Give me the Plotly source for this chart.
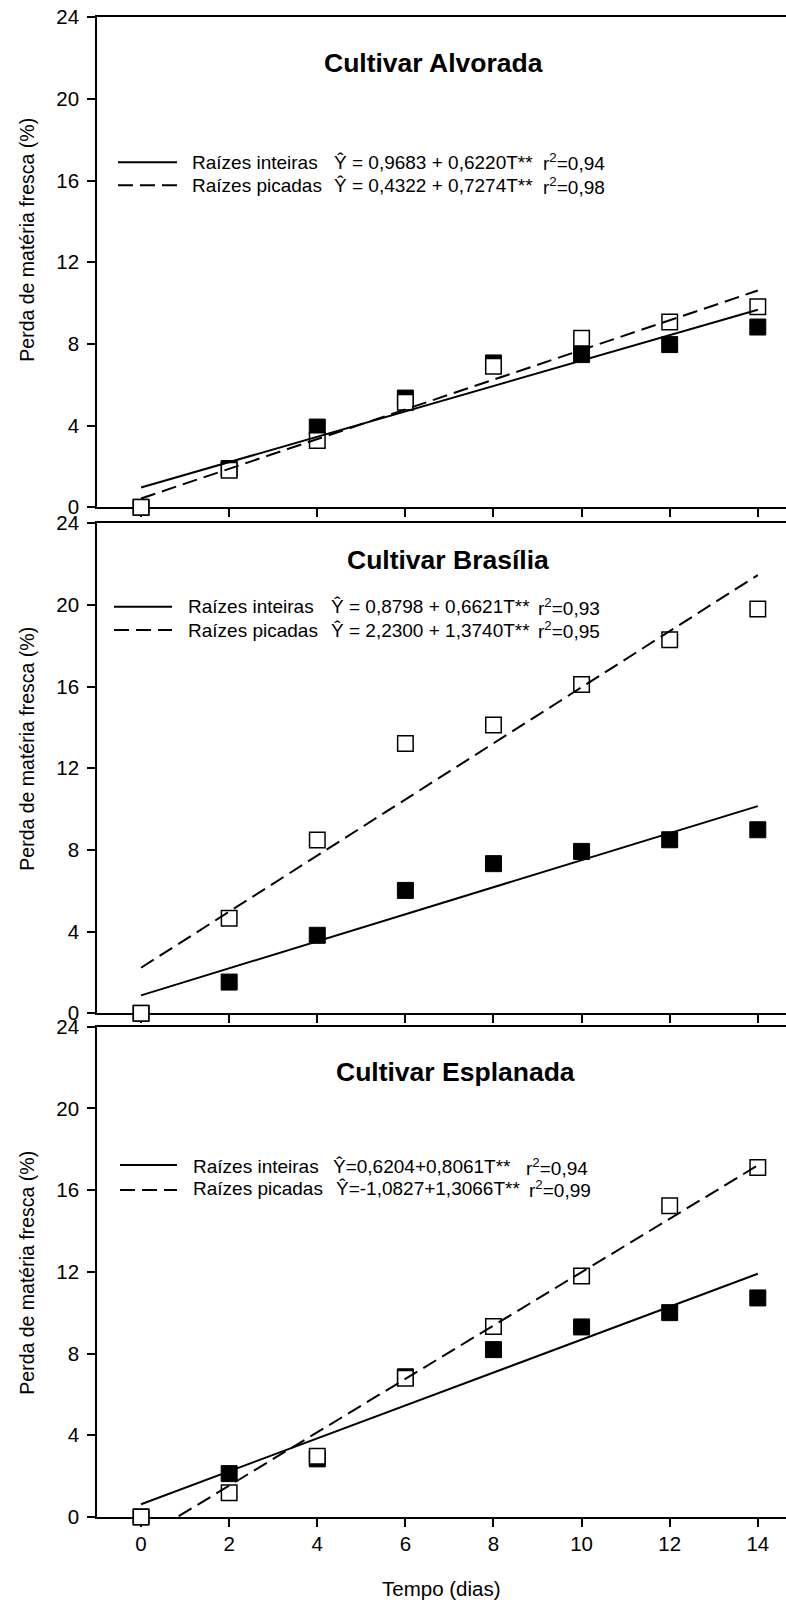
import numpy as np
import plotly.graph_objects as go

# ---------------- data ----------------
tempo = [0, 2, 4, 6, 8, 10, 12, 14]
cultivares = ["Cultivar Alvorada", "Cultivar Brasília", "Cultivar Esplanada"]
series_names = ["Raízes inteiras", "Raízes picadas"]

alvorada_inteiras = [0.0, 1.90, 3.93, 5.35, 7.07, 7.48, 7.97, 8.83]
alvorada_picadas = [0.0, 1.81, 3.27, 5.14, 6.91, 8.28, 9.08, 9.82]
brasilia_inteiras = [0.0, 1.53, 3.82, 6.02, 7.33, 7.93, 8.50, 8.99]
brasilia_picadas = [0.0, 4.65, 8.49, 13.22, 14.12, 16.11, 18.30, 19.80]
esplanada_inteiras = [0.0, 2.12, 2.84, 6.86, 8.19, 9.30, 10.00, 10.72]
esplanada_picadas = [0.0, 1.18, 2.97, 6.79, 9.32, 11.80, 15.23, 17.11]

# regression coefficients (intercept, slope)
coef_inteiras = [(0.9683, 0.6220), (0.8798, 0.6621), (0.6204, 0.8061)]
coef_picadas = [(0.4322, 0.7274), (2.2300, 1.3740), (-1.0827, 1.3066)]

eq_inteiras = ["Ŷ = 0,9683 + 0,6220T**", "Ŷ = 0,8798 + 0,6621T**", "Ŷ=0,6204+0,8061T**"]
eq_picadas = ["Ŷ = 0,4322 + 0,7274T**", "Ŷ = 2,2300 + 1,3740T**", "Ŷ=-1,0827+1,3066T**"]
r2_inteiras = ["0,94", "0,93", "0,94"]
r2_picadas = ["0,98", "0,95", "0,99"]

y_ticks = [0, 4, 8, 12, 16, 20, 24]
x_ticks = [0, 2, 4, 6, 8, 10, 12, 14]
y_title = "Perda de matéria fresca (%)"
x_title = "Tempo (dias)"

inteiras = [alvorada_inteiras, brasilia_inteiras, esplanada_inteiras]
picadas = [alvorada_picadas, brasilia_picadas, esplanada_picadas]

# ---------------- layout geometry (pixels) ----------------
W, H, L = 786, 1602, 97
panels_px = [(17.3, 507.3), (523.3, 1013.3), (1026.7, 1516.9)]
FONT = "Liberation Sans, Arial, sans-serif"


def fx(px):
    return (px - L) / (W - L)


def fy(py):
    return 1 - py / H


legend_geo = [
    dict(x0=118, x1=177, ya=162.2, yb=185.3, tx=190.7, ex=(333.3, 333.3), ey=(162.5, 185.5), rx=(542.3, 542.3)),
    dict(x0=114, x1=172, ya=606.7, yb=630.0, tx=186.7, ex=(330.0, 330.0), ey=(606.7, 630.0), rx=(536.7, 536.7)),
    dict(x0=120, x1=177, ya=1165.0, yb=1190.0, tx=191.7, ex=(331.7, 334.5), ey=(1166.5, 1188.5), rx=(525.0, 527.5)),
]
title_pos = [(433.7, 63.3), (447.8, 559.7), (455.0, 1072.0)]
ytitle_pos = [(26.7, 240.0), (26.7, 749.0), (26.7, 1273.0)]

fig = go.Figure()
xs_line = np.array([min(tempo), max(tempo)], dtype=float)

for i in range(3):
    xa = "x" if i == 0 else f"x{i + 1}"
    ya = "y" if i == 0 else f"y{i + 1}"
    fig.add_trace(go.Scatter(
        x=tempo, y=inteiras[i], mode="markers", name=series_names[0], showlegend=False,
        marker=dict(symbol="square", size=16, color="black", line=dict(color="black", width=1)),
        cliponaxis=False, xaxis=xa, yaxis=ya))
    fig.add_trace(go.Scatter(
        x=tempo, y=picadas[i], mode="markers", name=series_names[1], showlegend=False,
        marker=dict(symbol="square", size=15.5, color="white", line=dict(color="black", width=1.5)),
        cliponaxis=False, xaxis=xa, yaxis=ya))
    a, b = coef_inteiras[i]
    fig.add_trace(go.Scatter(
        x=xs_line, y=a + b * xs_line, mode="lines", name=series_names[0], showlegend=False,
        line=dict(color="black", width=2), xaxis=xa, yaxis=ya))
    a, b = coef_picadas[i]
    fig.add_trace(go.Scatter(
        x=xs_line, y=a + b * xs_line, mode="lines", name=series_names[1], showlegend=False,
        line=dict(color="black", width=2, dash="15px,7px"), xaxis=xa, yaxis=ya))

layout = dict(
    width=W, height=H,
    margin=dict(l=L, r=0, t=0, b=0, autoexpand=False),
    paper_bgcolor="white", plot_bgcolor="white",
    font=dict(family=FONT, color="black", size=19),
    showlegend=False,
)

for i, (top, bot) in enumerate(panels_px):
    xk = "xaxis" if i == 0 else f"xaxis{i + 1}"
    yk = "yaxis" if i == 0 else f"yaxis{i + 1}"
    yname = "y" if i == 0 else f"y{i + 1}"
    xname = "x" if i == 0 else f"x{i + 1}"
    layout[xk] = dict(
        domain=[0, 1], anchor=yname, range=[-1, 14.64], tickvals=x_ticks,
        ticks="outside", ticklen=8, tickwidth=1.5, tickcolor="black",
        showline=True, linewidth=1.5, linecolor="black", mirror=True,
        showgrid=False, zeroline=False, showticklabels=(i == 2),
        tickfont=dict(size=20.5, family=FONT, color="black"),
        layer="below traces", automargin=False, fixedrange=True,
    )
    layout[yk] = dict(
        domain=[fy(bot), fy(top)], anchor=xname, range=[0, 24], tickvals=y_ticks,
        ticks="outside", ticklen=8, tickwidth=1.5, tickcolor="black",
        showline=True, linewidth=1.5, linecolor="black", mirror=False,
        showgrid=False, zeroline=False, ticklabelstandoff=4,
        tickfont=dict(size=20.5, family=FONT, color="black"),
        layer="below traces", automargin=False, fixedrange=True,
    )

fig.update_layout(**layout)

shapes = []
annotations = []
for i in range(3):
    g = legend_geo[i]
    shapes.append(dict(type="line", xref="paper", yref="paper", x0=fx(g["x0"]), x1=fx(g["x1"]),
                       y0=fy(g["ya"]), y1=fy(g["ya"]), line=dict(color="black", width=2)))
    shapes.append(dict(type="line", xref="paper", yref="paper", x0=fx(g["x0"]), x1=fx(g["x1"]),
                       y0=fy(g["yb"]), y1=fy(g["yb"]), line=dict(color="black", width=2, dash="15px,7px")))
    for name, yy in zip(series_names, (g["ey"][0], g["ey"][1])):
        annotations.append(dict(text=name, xref="paper", yref="paper", x=fx(g["tx"]), y=fy(yy),
                                xanchor="left", yanchor="middle", showarrow=False,
                                font=dict(size=19, family=FONT, color="black"), borderpad=0))
    for eq, ex, yy in zip((eq_inteiras[i], eq_picadas[i]), g["ex"], g["ey"]):
        annotations.append(dict(text=eq, xref="paper", yref="paper", x=fx(ex), y=fy(yy),
                                xanchor="left", yanchor="middle", showarrow=False,
                                font=dict(size=19, family=FONT, color="black"), borderpad=0))
    for r2, rx, yy in zip((r2_inteiras[i], r2_picadas[i]), g["rx"], g["ey"]):
        annotations.append(dict(text=f"r<sup>2</sup>={r2}", xref="paper", yref="paper", x=fx(rx), y=fy(yy),
                                xanchor="left", yanchor="middle", showarrow=False,
                                font=dict(size=19, family=FONT, color="black"), borderpad=0))
    tx, ty = title_pos[i]
    annotations.append(dict(text=f"<b>{cultivares[i]}</b>", xref="paper", yref="paper", x=fx(tx), y=fy(ty),
                            xanchor="center", yanchor="middle", showarrow=False,
                            font=dict(size=26.5, family=FONT, color="black"), borderpad=0))
    yx, yy = ytitle_pos[i]
    annotations.append(dict(text=y_title, xref="paper", yref="paper", x=fx(yx), y=fy(yy),
                            xanchor="center", yanchor="middle", textangle=-90, showarrow=False,
                            font=dict(size=19.5, family=FONT, color="black"), borderpad=0))

annotations.append(dict(text=x_title, xref="paper", yref="paper", x=fx(441.5), y=fy(1588),
                        xanchor="center", yanchor="middle", showarrow=False,
                        font=dict(size=20.5, family=FONT, color="black"), borderpad=0))

fig.update_layout(shapes=shapes, annotations=annotations)
fig.write_html(
    "out.html",
    config={"displayModeBar": False},
    post_script="document.body.style.margin='0';document.body.style.overflow='hidden';",
)
